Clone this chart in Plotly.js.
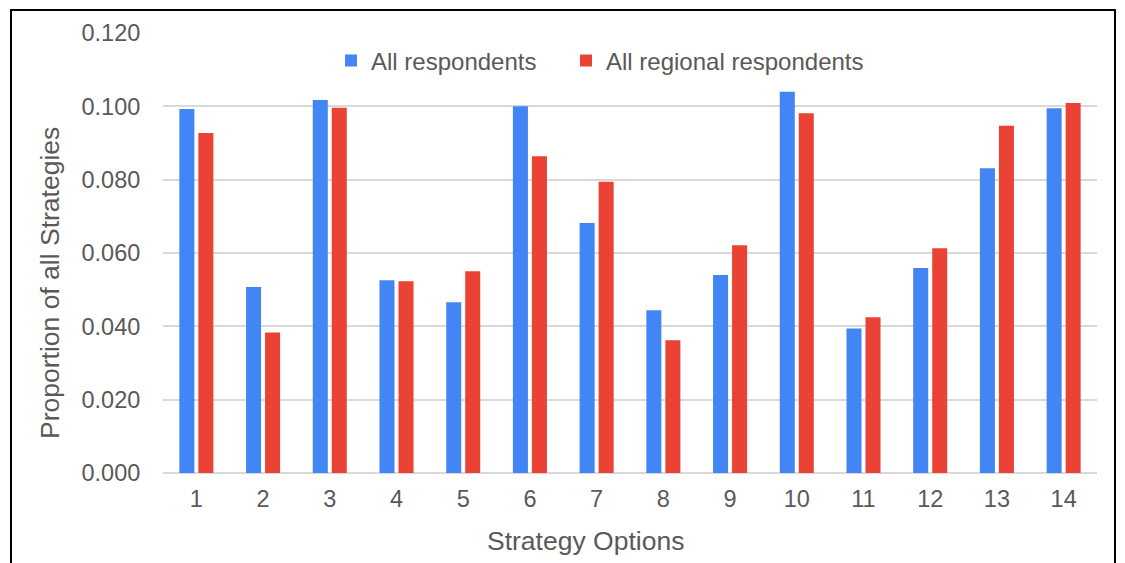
<!DOCTYPE html>
<html>
<head>
<meta charset="utf-8">
<script src="https://cdn.plot.ly/plotly-3.0.1.min.js"></script>
<style>
  html, body { margin: 0; padding: 0; background: #fff; }
  #wrap { position: relative; width: 1125px; height: 563px; overflow: hidden; }
  #chart { position: absolute; left: 0; top: 0; width: 1125px; height: 563px; }
  #frame { position: absolute; left: 10px; top: 9px; width: 1106px; height: 600px;
           border: 2px solid #000; pointer-events: none; box-sizing: border-box; }
</style>
</head>
<body>
<div id="wrap">
  <div id="chart"></div>
  <div id="frame"></div>
</div>
<script>
const categories = ['1','2','3','4','5','6','7','8','9','10','11','12','13','14'];
const allRespondents = [0.0993, 0.0507, 0.1017, 0.0526, 0.0466, 0.1000, 0.0682, 0.0444, 0.0540, 0.1040, 0.0394, 0.0559, 0.0831, 0.0995];
const regionalRespondents = [0.0927, 0.0383, 0.0996, 0.0523, 0.0550, 0.0864, 0.0794, 0.0362, 0.0621, 0.0981, 0.0425, 0.0613, 0.0947, 0.1009];
const seriesNames = ['All respondents', 'All regional respondents'];
const yTicks = [0, 0.02, 0.04, 0.06, 0.08, 0.10, 0.12];
const xTitle = 'Strategy Options';
const yTitle = 'Proportion of all Strategies';

const font = 'Liberation Sans, Arial, sans-serif';
const textColor = '#595959';

const traces = [
  { type: 'bar', name: seriesNames[0], x: categories, y: allRespondents,
    marker: { color: '#4285F4' }, hoverinfo: 'x+y', legend: 'legend' },
  { type: 'bar', name: seriesNames[1], x: categories, y: regionalRespondents,
    marker: { color: '#EA4335' }, hoverinfo: 'x+y', legend: 'legend2' }
];

const plotL = 163, plotR = 1097, plotT = 33, plotB = 473;
const pw = plotR - plotL, ph = plotB - plotT;
const legendBase = {
  orientation: 'h',
  xref: 'paper', yref: 'paper',
  xanchor: 'left', yanchor: 'middle',
  y: (plotB - 61) / ph,
  font: { family: font, size: 24, color: textColor },
  itemwidth: 30,
  bgcolor: 'rgba(0,0,0,0)'
};

const layout = {
  width: 1125, height: 563,
  margin: { l: plotL, r: 1125 - plotR, t: plotT, b: 563 - plotB, autoexpand: false },
  paper_bgcolor: 'rgba(0,0,0,0)',
  plot_bgcolor: '#fff',
  barmode: 'group',
  bargap: 0.43,
  bargroupgap: 0.21,
  font: { family: font, color: textColor, size: 23 },
  showlegend: true,
  legend: Object.assign({}, legendBase, { x: (331 - plotL) / pw }),
  legend2: Object.assign({}, legendBase, { x: (566 - plotL) / pw }),
  xaxis: {
    type: 'category',
    tickvals: categories,
    ticks: 'outside', ticklen: 5, tickcolor: 'rgba(0,0,0,0)',
    showgrid: false, showline: false, zeroline: false,
    tickfont: { family: font, size: 23.5, color: textColor }
  },
  yaxis: {
    range: [0, 0.12],
    tickvals: yTicks,
    tickformat: '.3f',
    ticks: 'outside', ticklen: 17, tickcolor: 'rgba(0,0,0,0)',
    showgrid: true, gridcolor: '#d9d9d9', gridwidth: 1.8,
    zeroline: true, zerolinecolor: '#d9d9d9', zerolinewidth: 1.8,
    showline: false,
    tickfont: { family: font, size: 23.5, color: textColor }
  },
  annotations: [{
    text: yTitle, textangle: -90, showarrow: false,
    xref: 'paper', yref: 'paper',
    x: (50 - plotL) / pw, y: (plotB - 283) / ph,
    xanchor: 'center', yanchor: 'middle',
    font: { family: font, size: 26.5, color: textColor }
  }, {
    text: xTitle, showarrow: false,
    xref: 'paper', yref: 'paper',
    x: (585 - plotL) / pw, y: (plotB - 541) / ph,
    xanchor: 'center', yanchor: 'middle',
    font: { family: font, size: 26.5, color: textColor }
  }]
};

Plotly.newPlot('chart', traces, layout, { displayModeBar: false, staticPlot: true });
</script>
</body>
</html>
